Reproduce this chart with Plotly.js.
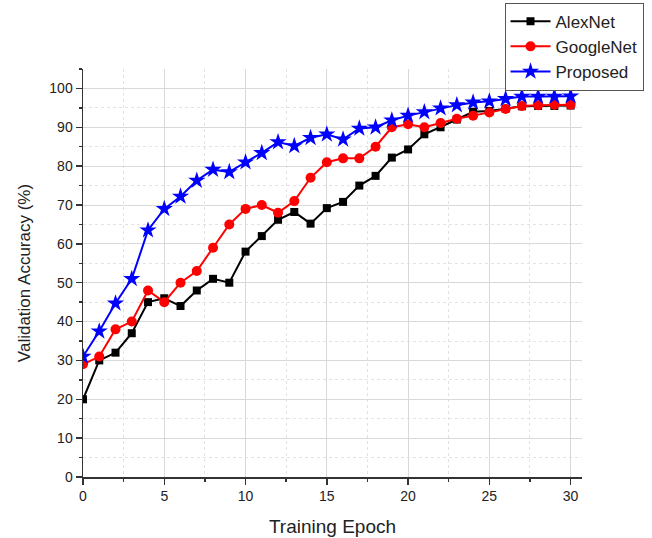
<!DOCTYPE html>
<html>
<head>
<meta charset="utf-8">
<script src="https://cdn.plot.ly/plotly-3.0.1.min.js"></script>
<style>html,body{margin:0;padding:0;background:#fff;}#chart{width:652px;height:538px;}</style>
</head>
<body>
<div id="chart"></div>
<script>
const epochs = [0,1,2,3,4,5,6,7,8,9,10,11,12,13,14,15,16,17,18,19,20,21,22,23,24,25,26,27,28,29,30];
const alexnet = [20,30,32,37,45,46,44,48,51,50,58,62,66.2,68.2,65.2,69.2,70.8,75,77.5,82.2,84.3,88.2,90,92,94,94.2,94.8,95.4,95.5,95.5,95.6];
const googlenet = [29,31,38,40,48,45,50,53,59,65,69,70,68,71,77,81,82,82,85,90,90.8,90,91.1,92.2,93,93.8,94.7,95.5,95.7,95.8,95.8];
const proposed = [31,37.5,44.7,51,63.5,69,72.2,76.3,79.1,78.5,81,83.4,86.2,85.2,87.3,88.2,86.9,89.7,90,91.8,93,93.9,94.9,95.7,96.4,96.7,97.3,97.9,97.9,97.9,98];
const seriesNames = ['AlexNet','GoogleNet','Proposed'];

const traces = [
  {x: epochs, y: alexnet, name: seriesNames[0], mode: 'lines+markers', line: {color: '#000000', width: 2}, marker: {symbol: 'square', size: 8, color: '#000000'}},
  {x: epochs, y: googlenet, name: seriesNames[1], mode: 'lines+markers', line: {color: '#ff0000', width: 2}, marker: {symbol: 'circle', size: 10, color: '#ff0000'}},
  {x: epochs, y: proposed, name: seriesNames[2], mode: 'lines+markers', line: {color: '#0000ff', width: 2}, marker: {symbol: 'star', size: 13, color: '#0000ff'}}
];

const fontFam = '"Liberation Sans", Arial, sans-serif';
const layout = {
  width: 652, height: 538,
  margin: {l: 83, r: 69.5, t: 68.5, b: 61, pad: 0, autoexpand: false},
  paper_bgcolor: '#ffffff', plot_bgcolor: '#ffffff',
  font: {family: fontFam, color: '#222222', size: 14},
  showlegend: true,
  legend: {
    xref: 'container', yref: 'container',
    x: 0.987, xanchor: 'right', y: 0.995, yanchor: 'top',
    bgcolor: '#ffffff', bordercolor: '#555555', borderwidth: 1,
    font: {family: fontFam, size: 17, color: '#222222'},
    tracegroupgap: 0, itemwidth: 40
  },
  xaxis: {
    range: [0, 30.7], tickmode: 'linear', tick0: 0, dtick: 5,
    ticks: 'outside', ticklen: 6, tickwidth: 1.5, tickcolor: '#333333',
    showline: true, linecolor: '#333333', linewidth: 1.5,
    showgrid: true, gridcolor: '#d9d9d9', gridwidth: 1,
    zeroline: false, mirror: false,
    tickfont: {size: 14, color: '#222222'},
    minor: {dtick: 2.5, ticks: 'outside', ticklen: 3, tickcolor: '#333333', tickwidth: 1.5, showgrid: true, gridcolor: '#e3e3e3', griddash: 'dot', gridwidth: 1},
    title: {text: 'Training Epoch', font: {size: 19, color: '#222222'}, standoff: 16}
  },
  yaxis: {
    range: [0, 105], tickmode: 'linear', tick0: 0, dtick: 10,
    ticks: 'outside', ticklen: 6, tickwidth: 1.5, tickcolor: '#333333',
    showline: true, linecolor: '#333333', linewidth: 1.5,
    showgrid: true, gridcolor: '#d9d9d9', gridwidth: 1,
    zeroline: false, mirror: false,
    tickfont: {size: 14, color: '#222222'},
    minor: {dtick: 5, ticks: 'outside', ticklen: 3, tickcolor: '#333333', tickwidth: 1.5, showgrid: true, gridcolor: '#e3e3e3', griddash: 'dot', gridwidth: 1},
    title: {text: 'Validation Accuracy (%)', font: {size: 17, color: '#222222'}, standoff: 14}
  }
};

Plotly.newPlot('chart', traces, layout, {displayModeBar: false, staticPlot: true});
</script>
</body>
</html>
